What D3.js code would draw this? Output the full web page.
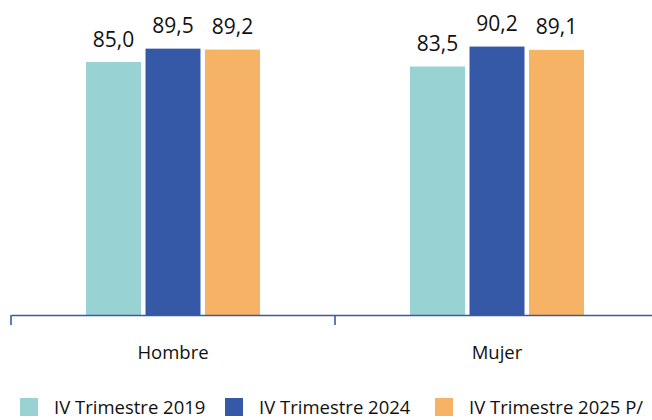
<!DOCTYPE html>
<html><head><meta charset="utf-8">
<script src="https://cdn.jsdelivr.net/npm/d3@7"></script>
<style>html,body{margin:0;padding:0;background:#fff;overflow:hidden}svg{display:block}</style>
</head><body>
<script>
const categories = ["Hombre", "Mujer"];
const series = ["IV Trimestre 2019", "IV Trimestre 2024", "IV Trimestre 2025 P/"];
const values2019 = [85.0, 83.5];
const values2024 = [89.5, 90.2];
const values2025 = [89.2, 89.1];
const colors = ["#99D2D3", "#3559A6", "#F7B365"];

const W = 652, H = 420;
const font = "'Open Sans', sans-serif";
const svg = d3.select("body").append("svg").attr("width", W).attr("height", H);

const seriesValues = [values2019, values2024, values2025];
const data = categories.map((c, i) => ({cat: c, vals: series.map((s, j) => ({s, v: seriesValues[j][i], j}))}));

const x0 = d3.scaleBand().domain(categories).range([11, 659]).padding(0);
const groupW = 174;
const off = (x0.bandwidth() - groupW) / 2;
const x1 = d3.scaleBand().domain(series).range([off, off + groupW]).paddingInner(0.076);
const y = d3.scaleLinear().domain([0, 100]).range([315, 17.4]);

const g = svg.append("g");
const grp = g.selectAll("g.grp").data(data).join("g").attr("transform", d => `translate(${x0(d.cat)},0)`);
grp.selectAll("rect").data(d => d.vals).join("rect")
  .attr("x", d => x1(d.s)).attr("width", x1.bandwidth())
  .attr("y", d => y(d.v)).attr("height", d => y(0) - y(d.v))
  .attr("fill", d => colors[d.j]);
grp.selectAll("text").data(d => d.vals).join("text")
  .attr("x", d => x1(d.s) + x1.bandwidth() / 2)
  .attr("y", d => y(d.v) - 15.5)
  .attr("text-anchor", "middle")
  .attr("font-family", font).attr("font-size", 21).attr("fill", "#111")
  .text(d => d3.format(".1f")(d.v).replace(".", ","));

// axis
const axis = d3.axisBottom(x0).tickSize(0).tickPadding(31);
const ag = svg.append("g").attr("transform", `translate(0,${y(0)})`).call(axis);
ag.select(".domain").attr("stroke", "#3A59A8").attr("stroke-width", 1.6);
ag.selectAll(".tick text").attr("font-family", font).attr("font-size", 18.5).attr("fill", "#111");
const bounds = categories.map(c => x0(c)).concat([x0.range()[1]]);
ag.selectAll("line.bnd").data(bounds).join("line").attr("class", "bnd")
  .attr("x1", d => d).attr("x2", d => d).attr("y1", 0).attr("y2", 10)
  .attr("stroke", "#3A59A8").attr("stroke-width", 1.6);

// legend
const legX = [20, 225, 435];
const lg = svg.append("g").selectAll("g").data(series).join("g")
  .attr("transform", (d, i) => `translate(${legX[i]},398)`);
lg.append("rect").attr("width", 18).attr("height", 18).attr("fill", (d, i) => colors[i]);
lg.append("text").attr("x", 34).attr("y", 16)
  .attr("font-family", font).attr("font-size", 18.5).attr("fill", "#111").text(d => d);
</script>
</body></html>
